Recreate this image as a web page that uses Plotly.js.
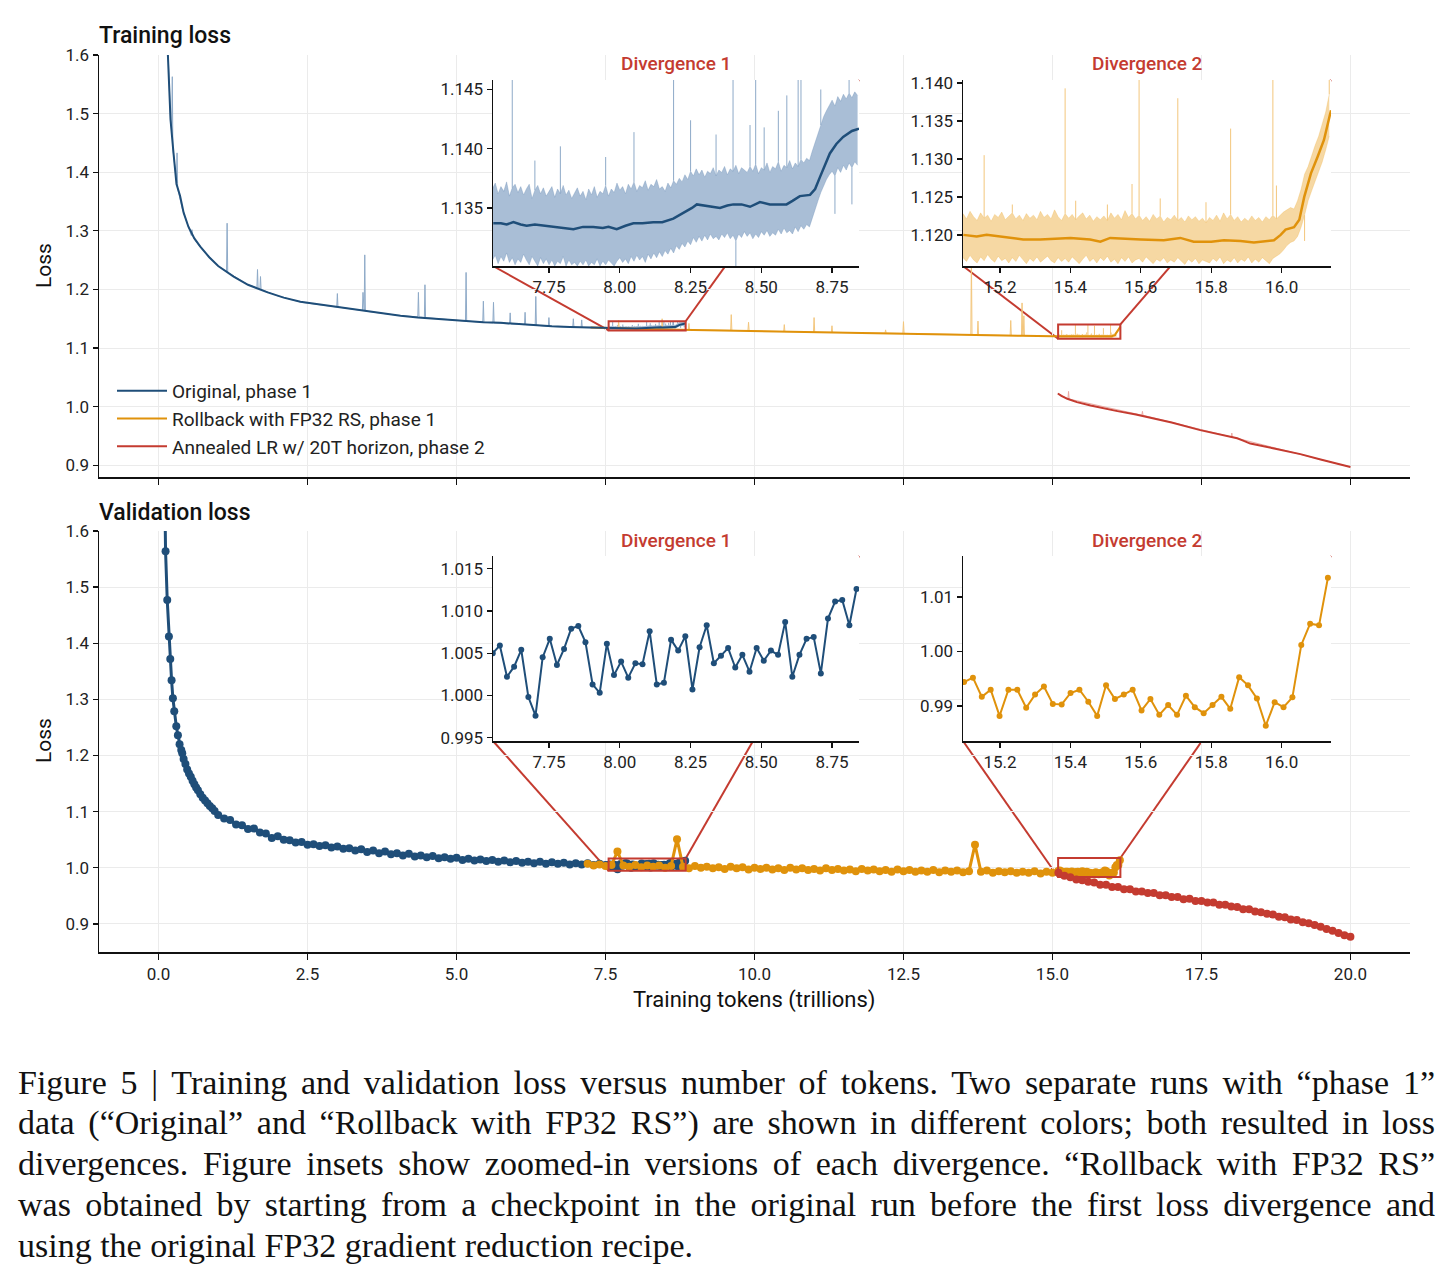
<!DOCTYPE html>
<html>
<head>
<meta charset="utf-8">
<script src="https://cdn.plot.ly/plotly-3.0.1.min.js"></script>
<style>
  html, body { margin: 0; padding: 0; background: #fff; }
  #fig { width: 1451px; height: 1277px; }
</style>
</head>
<body>
<div id="fig"></div>
<script>
// ---------------------------------------------------------------------------
// Training loss (smoothed) — main panel
// ---------------------------------------------------------------------------
const trainOrigX = [0.14,0.17,0.20,0.25,0.30,0.36,0.42,0.50,0.60,0.70,0.85,1.00,1.26,1.50,1.83,2.10,2.38,2.65,2.94,3.20,3.51,3.80,4.06,4.35,4.61,4.90,5.18,5.45,5.74,6.00,6.30,6.60,6.90,7.20,7.45];
const trainOrigY = [1.640,1.546,1.490,1.433,1.380,1.360,1.331,1.307,1.287,1.273,1.255,1.240,1.222,1.208,1.195,1.186,1.179,1.175,1.171,1.167,1.162,1.158,1.155,1.152,1.150,1.148,1.146,1.144,1.143,1.141,1.139,1.137,1.136,1.135,1.134];

const trainRollX = [7.25,7.5,8.0,8.5,9.0,9.5,10.0,10.5,11.0,11.5,12.0,12.5,13.0,13.5,14.0,14.5,15.0];
const trainRollY = [1.1350,1.1340,1.1328,1.1318,1.1310,1.1300,1.1290,1.1280,1.1272,1.1265,1.1257,1.1250,1.1240,1.1230,1.1220,1.1210,1.1200];

const trainAnnealX = [15.09,15.15,15.25,15.41,15.64,15.81,16.09,16.4,16.64,17.0,17.48,17.8,18.1,18.2,18.32,18.7,19.16,19.5,19.72,20.0];
const trainAnnealY = [1.0225,1.0185,1.0134,1.0077,1.0020,0.9980,0.9924,0.9865,0.9810,0.9730,0.9600,0.9530,0.9460,0.9420,0.9370,0.9290,0.9190,0.9100,0.9040,0.8970];

// Raw (unsmoothed) training loss with its spikes, outside the zoom windows
const origRawX = [0.14,0.18,0.20,0.22,0.23,0.24,0.27,0.30,0.31,0.32,0.40,0.50,0.55,0.56,0.57,0.60,0.70,0.85,1.00,1.14,1.15,1.16,1.30,1.50,1.65,1.66,1.67,1.70,1.71,1.72,2.00,2.40,2.99,3.00,3.01,3.40,3.42,3.43,3.44,3.45,3.46,3.47,4.00,4.35,4.36,4.37,4.46,4.47,4.48,5.00,5.15,5.16,5.17,5.44,5.45,5.46,5.61,5.62,5.63,5.89,5.90,5.91,6.14,6.15,6.16,6.32,6.33,6.34,6.54,6.55,6.56,6.80,6.95,6.96,6.97,7.09,7.10,7.11,7.30,7.54];
const origRawY = [1.660,1.520,1.490,1.470,1.563,1.440,1.410,1.385,1.433,1.372,1.337,1.308,1.292,1.302,1.294,1.286,1.272,1.256,1.240,1.230,1.313,1.229,1.220,1.208,1.203,1.234,1.202,1.201,1.222,1.200,1.189,1.178,1.170,1.193,1.170,1.164,1.164,1.195,1.164,1.163,1.259,1.163,1.156,1.153,1.195,1.153,1.152,1.208,1.152,1.147,1.146,1.229,1.146,1.144,1.180,1.144,1.143,1.178,1.143,1.141,1.160,1.141,1.140,1.161,1.140,1.139,1.188,1.139,1.137,1.152,1.137,1.136,1.136,1.150,1.136,1.135,1.148,1.135,1.1345,1.1338];

const rollRawX = [7.25,7.50,7.71,7.72,7.73,8.00,8.44,8.45,8.46,8.89,8.90,8.91,9.30,9.60,9.61,9.62,9.89,9.90,9.91,10.30,10.49,10.50,10.51,10.99,11.00,11.01,11.29,11.30,11.31,11.80,12.19,12.20,12.21,12.49,12.50,12.51,12.70,13.20,13.63,13.64,13.65,13.74,13.75,13.76,14.00,14.29,14.30,14.31,14.48,14.49,14.50,14.51,14.52,14.53,14.80,15.05];
const rollRawY = [1.1350,1.1338,1.1330,1.1470,1.1330,1.1327,1.1320,1.1500,1.1320,1.1312,1.1420,1.1312,1.1305,1.1302,1.1570,1.1301,1.1296,1.1440,1.1296,1.1285,1.1281,1.1400,1.1281,1.1272,1.1520,1.1272,1.1268,1.1380,1.1268,1.1260,1.1254,1.1310,1.1254,1.1250,1.1450,1.1250,1.1247,1.1237,1.1228,1.2550,1.1228,1.1226,1.1460,1.1226,1.1220,1.1214,1.1470,1.1214,1.1210,1.1770,1.1210,1.1210,1.1550,1.1209,1.1204,1.1199];

const annealRawX = [15.09,15.26,15.27,15.28,16.50,16.51,16.52,18.00,18.01,18.02,20.00];
const annealRawY = [1.0225,1.0135,1.0260,1.0130,0.9855,0.9920,0.9853,0.9483,0.9550,0.9481,0.8970];

// ---------------------------------------------------------------------------
// Divergence 1 / Divergence 2 — training loss, zoomed
// raw loss per 0.01T bin: upper and lower envelope, plus isolated spikes
// ---------------------------------------------------------------------------
const DIV1_BIN_X0 = 7.55, DIV1_BIN_STEP = 0.01;
const div1RawHi = [
  1.1366,1.1371,1.1362,1.1368,1.1364,1.1372,1.1360,1.1367,1.1370,1.1363,
  1.1368,1.1361,1.1366,1.1370,1.1358,1.1365,1.1369,1.1362,1.1367,1.1360,
  1.1364,1.1368,1.1359,1.1366,1.1362,1.1369,1.1361,1.1365,1.1358,1.1363,
  1.1367,1.1360,1.1364,1.1357,1.1366,1.1361,1.1368,1.1359,1.1364,1.1362,
  1.1369,1.1360,1.1366,1.1363,1.1371,1.1365,1.1368,1.1362,1.1370,1.1366,
  1.1372,1.1364,1.1369,1.1367,1.1373,1.1365,1.1370,1.1368,1.1374,1.1366,
  1.1368,1.1364,1.1371,1.1367,1.1373,1.1370,1.1375,1.1372,1.1378,1.1374,
  1.1381,1.1377,1.1383,1.1378,1.1382,1.1376,1.1381,1.1379,1.1384,1.1377,
  1.1382,1.1380,1.1385,1.1378,1.1383,1.1381,1.1386,1.1379,1.1384,1.1382,
  1.1380,1.1385,1.1381,1.1387,1.1379,1.1384,1.1382,1.1388,1.1380,1.1385,
  1.1383,1.1389,1.1381,1.1386,1.1384,1.1390,1.1383,1.1388,1.1385,1.1391,
  1.1388,1.1392,1.1390,1.1398,1.1405,1.1413,1.1420,1.1427,1.1432,1.1437,
  1.1441,1.1436,1.1444,1.1440,1.1446,1.1442,1.1447,1.1443,1.1448,1.1445
];
const div1RawLo = [
  1.1306,1.1310,1.1303,1.1309,1.1305,1.1312,1.1304,1.1308,1.1302,1.1307,
  1.1304,1.1311,1.1306,1.1302,1.1309,1.1305,1.1301,1.1308,1.1303,1.1307,
  1.1302,1.1306,1.1301,1.1305,1.1303,1.1309,1.1301,1.1306,1.1302,1.1304,
  1.1301,1.1305,1.1302,1.1306,1.1301,1.1304,1.1302,1.1307,1.1301,1.1305,
  1.1302,1.1306,1.1303,1.1301,1.1305,1.1308,1.1304,1.1307,1.1303,1.1309,
  1.1305,1.1310,1.1306,1.1309,1.1304,1.1311,1.1307,1.1312,1.1308,1.1313,
  1.1309,1.1314,1.1311,1.1316,1.1312,1.1318,1.1315,1.1320,1.1317,1.1322,
  1.1319,1.1325,1.1321,1.1326,1.1322,1.1327,1.1323,1.1328,1.1324,1.1326,
  1.1323,1.1328,1.1325,1.1329,1.1324,1.1327,1.1322,1.1328,1.1325,1.1330,
  1.1326,1.1329,1.1324,1.1328,1.1325,1.1330,1.1327,1.1331,1.1326,1.1329,
  1.1327,1.1332,1.1328,1.1333,1.1329,1.1331,1.1328,1.1334,1.1330,1.1335,
  1.1332,1.1336,1.1334,1.1342,1.1349,1.1356,1.1363,1.1369,1.1374,1.1378,
  1.1381,1.1377,1.1384,1.1380,1.1386,1.1382,1.1388,1.1384,1.1389,1.1386
];
const div1SpikeX = [7.62,7.70,7.79,7.95,8.05,8.19,8.25,8.34,8.40,8.41,8.46,8.48,8.51,8.56,8.59,8.63,8.64,8.71,8.76,8.81,8.82];
const div1SpikeY = [1.1460,1.1390,1.1402,1.1393,1.1414,1.1460,1.1424,1.1412,1.1460,1.1300,1.1420,1.1460,1.1418,1.1432,1.1445,1.1460,1.1460,1.1450,1.1345,1.1460,1.1353];
const div1SmoothX = [7.553,7.58,7.60,7.624,7.65,7.671,7.70,7.73,7.765,7.80,7.836,7.87,7.906,7.94,7.96,7.989,8.02,8.048,8.08,8.118,8.15,8.189,8.21,8.236,8.255,8.272,8.295,8.318,8.354,8.38,8.401,8.43,8.46,8.495,8.53,8.56,8.589,8.61,8.636,8.672,8.69,8.707,8.725,8.742,8.765,8.789,8.82,8.845];
const div1SmoothY = [1.1337,1.1337,1.1336,1.1338,1.1336,1.1335,1.1336,1.1335,1.1334,1.1333,1.1332,1.1334,1.1334,1.1333,1.1334,1.1332,1.1335,1.1337,1.1337,1.1338,1.1338,1.1341,1.1344,1.1347,1.1350,1.1353,1.1352,1.1351,1.1350,1.1352,1.1353,1.1353,1.1351,1.1355,1.1353,1.1353,1.1353,1.1356,1.1360,1.1361,1.1366,1.1376,1.1386,1.1396,1.1404,1.1410,1.1415,1.1417];

const DIV2_BIN_X0 = 15.095, DIV2_BIN_STEP = 0.01;
const div2RawHi = [
  1.1228,1.1221,1.1231,1.1224,1.1219,1.1229,1.1222,1.1226,1.1218,1.1227,
  1.1223,1.1230,1.1220,1.1225,1.1229,1.1221,1.1226,1.1219,1.1228,1.1222,
  1.1226,1.1220,1.1231,1.1223,1.1227,1.1221,1.1233,1.1224,1.1219,1.1228,
  1.1222,1.1227,1.1220,1.1225,1.1229,1.1221,1.1226,1.1218,1.1224,1.1220,
  1.1225,1.1219,1.1229,1.1222,1.1227,1.1220,1.1232,1.1223,1.1228,1.1221,
  1.1226,1.1219,1.1224,1.1218,1.1227,1.1221,1.1225,1.1217,1.1223,1.1220,
  1.1226,1.1219,1.1223,1.1217,1.1225,1.1220,1.1224,1.1218,1.1222,1.1216,
  1.1223,1.1219,1.1226,1.1218,1.1229,1.1221,1.1227,1.1219,1.1224,1.1217,
  1.1222,1.1218,1.1225,1.1219,1.1223,1.1217,1.1224,1.1220,1.1226,1.1221,
  1.1226,1.1230,1.1233,1.1236,1.1234,1.1245,1.1260,1.1280,1.1290,1.1305,
  1.1318,1.1330,1.1345,1.1362,1.1385
];
const div2RawLo = [
  1.1170,1.1165,1.1173,1.1167,1.1163,1.1171,1.1166,1.1174,1.1168,1.1164,
  1.1172,1.1166,1.1169,1.1163,1.1170,1.1165,1.1173,1.1167,1.1162,1.1169,
  1.1165,1.1171,1.1164,1.1168,1.1172,1.1166,1.1163,1.1170,1.1165,1.1169,
  1.1164,1.1171,1.1166,1.1162,1.1168,1.1173,1.1165,1.1169,1.1163,1.1170,
  1.1166,1.1172,1.1164,1.1168,1.1162,1.1170,1.1165,1.1171,1.1163,1.1167,
  1.1169,1.1164,1.1171,1.1166,1.1162,1.1168,1.1165,1.1170,1.1163,1.1167,
  1.1164,1.1170,1.1166,1.1161,1.1168,1.1164,1.1169,1.1162,1.1167,1.1165,
  1.1163,1.1169,1.1165,1.1171,1.1162,1.1167,1.1164,1.1170,1.1163,1.1168,
  1.1165,1.1171,1.1163,1.1168,1.1164,1.1170,1.1166,1.1162,1.1169,1.1172,
  1.1175,1.1180,1.1186,1.1190,1.1192,1.1198,1.1210,1.1226,1.1245,1.1258,
  1.1270,1.1282,1.1296,1.1312,1.1330
];
const div2SpikeX = [15.155,15.235,15.385,15.415,15.505,15.575,15.595,15.655,15.705,15.785,15.855,15.975,15.985,16.065,16.135];
const div2SpikeY = [1.1305,1.1240,1.1393,1.1245,1.1240,1.1267,1.1405,1.1248,1.1380,1.1243,1.1340,1.1405,1.1265,1.1192,1.1405];
const div2SmoothX = [15.096,15.134,15.162,15.2,15.233,15.266,15.314,15.36,15.4,15.456,15.485,15.513,15.551,15.6,15.665,15.712,15.75,15.8,15.836,15.883,15.921,15.978,15.997,16.011,16.035,16.05,16.064,16.083,16.102,16.12,16.14];
const div2SmoothY = [1.1200,1.1198,1.1200,1.1198,1.1196,1.1194,1.1194,1.1195,1.1196,1.1194,1.1191,1.1196,1.1195,1.1194,1.1193,1.1196,1.1191,1.1191,1.1193,1.1192,1.1190,1.1193,1.1200,1.1207,1.1210,1.1220,1.1250,1.1281,1.1303,1.1325,1.1364];

// ---------------------------------------------------------------------------
// Validation loss
// ---------------------------------------------------------------------------
const valOrigHeadX = [0.09,0.117,0.145,0.173,0.196,0.218,0.240,0.263,0.297,0.324,0.352,0.380,0.397,0.42,0.45,0.48,0.51,0.54,0.57,0.60,0.63,0.66,0.70,0.74,0.78,0.82,0.86,0.90,0.94];
const valOrigHeadY = [1.780,1.564,1.477,1.412,1.372,1.334,1.302,1.279,1.252,1.236,1.220,1.210,1.204,1.194,1.185,1.175,1.168,1.162,1.155,1.149,1.143,1.138,1.131,1.125,1.120,1.115,1.110,1.106,1.101];
const VAL_STEP = 0.1;
const VAL_ORIG_X0 = 1.0;
const valOrigY = [
  1.094,1.088,1.085,1.077,1.076,1.069,1.070,1.063,1.061,1.053,
  1.056,1.050,1.049,1.045,1.046,1.041,1.042,1.039,1.040,1.036,
  1.038,1.034,1.035,1.031,1.033,1.028,1.031,1.026,1.029,1.024,
  1.026,1.022,1.025,1.020,1.022,1.019,1.021,1.017,1.019,1.016,
  1.018,1.014,1.016,1.013,1.015,1.012,1.014,1.011,1.013,1.010,
  1.012,1.009,1.011,1.008,1.011,1.007,1.010,1.007,1.009,1.006,
  1.008,1.006,1.008,1.005,1.007,1.005
];
const VAL_ROLL_X0 = 7.2;
const valRollY = [
  1.007,1.004,1.006,1.003,1.005,1.029,1.004,1.002,1.005,1.001,
  1.004,1.002,1.004,1.000,1.003,1.051,1.002,0.999,1.003,1.000,
  1.002,0.999,1.001,0.998,1.002,0.999,1.001,0.997,1.000,0.998,
  1.000,0.997,0.999,0.996,1.000,0.997,0.999,0.996,0.998,0.995,
  0.999,0.996,0.998,0.995,0.997,0.994,0.998,0.995,0.997,0.994,
  0.996,0.993,0.997,0.994,0.996,0.993,0.995,0.993,0.996,0.992,
  0.995,0.993,0.995,0.992,0.994,1.041,0.993,0.995,0.991,0.994,
  0.992,0.994,0.991,0.993,0.991,0.994,0.990,0.993,0.991
];
const VAL_ANNEAL_X0 = 15.1;
const valAnnealY = [
  0.991,0.986,0.983,0.979,0.978,0.975,0.974,0.970,0.970,0.966,
  0.966,0.962,0.962,0.958,0.958,0.955,0.955,0.951,0.951,0.948,
  0.948,0.944,0.945,0.941,0.941,0.938,0.938,0.934,0.934,0.931,
  0.930,0.926,0.926,0.922,0.921,0.918,0.917,0.913,0.912,0.908,
  0.907,0.903,0.901,0.898,0.895,0.891,0.888,0.884,0.880,0.877
];
const VAL_DIV_STEP = 0.0252;
const VAL_DIV1_X0 = 7.551;
const valDiv1Y = [1.0050,1.0059,1.0022,1.0034,1.0054,0.9998,0.9976,1.0045,1.0067,1.0036,1.0055,1.0079,1.0082,1.0063,1.0013,1.0003,1.0061,1.0024,1.0040,1.0021,1.0038,1.0037,1.0076,1.0013,1.0015,1.0066,1.0053,1.0070,1.0007,1.0057,1.0083,1.0038,1.0047,1.0056,1.0033,1.0048,1.0028,1.0056,1.0041,1.0053,1.0048,1.0087,1.0022,1.0048,1.0067,1.0069,1.0026,1.0091,1.0111,1.0113,1.0083,1.0126];
const VAL_DIV2_X0 = 15.098;
const valDiv2Y = [0.9944,0.9952,0.9917,0.9930,0.9882,0.9930,0.9930,0.9897,0.9921,0.9936,0.9904,0.9903,0.9924,0.9930,0.9908,0.9882,0.9938,0.9913,0.9921,0.9930,0.9892,0.9913,0.9884,0.9902,0.9884,0.9919,0.9898,0.9887,0.9902,0.9917,0.9895,0.9953,0.9938,0.9914,0.9864,0.9907,0.9898,0.9916,1.0012,1.0051,1.0048,1.0135];

// ---------------------------------------------------------------------------
// Ticks, zoom windows, labels
// ---------------------------------------------------------------------------
const MAIN_XTICKS = [0, 2.5, 5, 7.5, 10, 12.5, 15, 17.5, 20];
const MAIN_YTICKS = [0.9, 1.0, 1.1, 1.2, 1.3, 1.4, 1.5, 1.6];
const DIV1_XTICKS = [7.75, 8.0, 8.25, 8.5, 8.75];
const DIV2_XTICKS = [15.2, 15.4, 15.6, 15.8, 16.0];
const DIV1_TRAIN_YTICKS = [1.135, 1.140, 1.145];
const DIV2_TRAIN_YTICKS = [1.120, 1.125, 1.130, 1.135, 1.140];
const DIV1_VAL_YTICKS = [0.995, 1.000, 1.005, 1.010, 1.015];
const DIV2_VAL_YTICKS = [0.99, 1.00, 1.01];

const DIV1_X = [7.552, 8.845];
const DIV2_X = [15.095, 16.14];
const DIV1_TRAIN_Y = [1.1301, 1.1458];
const DIV2_TRAIN_Y = [1.1159, 1.1404];
const DIV1_VAL_Y = [0.9946, 1.0165];
const DIV2_VAL_Y = [0.9836, 1.0175];

const SERIES_NAMES = ['Original, phase 1', 'Rollback with FP32 RS, phase 1', 'Annealed LR w/ 20T horizon, phase 2'];
const CAPTION = [
  'Figure 5 | Training and validation loss versus number of tokens. Two separate runs with “phase 1”',
  'data (“Original” and “Rollback with FP32 RS”) are shown in different colors; both resulted in loss',
  'divergences. Figure insets show zoomed-in versions of each divergence. “Rollback with FP32 RS”',
  'was obtained by starting from a checkpoint in the original run before the first loss divergence and',
  'using the original FP32 gradient reduction recipe.'
];

// ---------------------------------------------------------------------------
// Styling and geometry
// ---------------------------------------------------------------------------
const W = 1451, H = 1277;
const P = px => px / W;
const Q = py => 1 - py / H;

const BLUE = '#1f4e79', ORANGE = '#e0920b', RED = '#c43b30';
const BLUE_RAW = '#8eaac8', ORANGE_RAW = '#f3c67c', RED_RAW = '#eaa9a2';
const BLUE_BAND = 'rgba(112,146,186,0.6)', ORANGE_BAND = 'rgba(238,178,72,0.5)';
const FONT = 'Roboto, "Open Sans", sans-serif';
const CAPTION_LEFT = 18, CAPTION_RIGHT = 1435;

const gridX = (x0, step, n) => Array.from({ length: n }, (_, i) => +(x0 + i * step).toFixed(4));

const div1BinX = gridX(DIV1_BIN_X0, DIV1_BIN_STEP, div1RawHi.length);
const div2BinX = gridX(DIV2_BIN_X0, DIV2_BIN_STEP, div2RawHi.length);
const valDiv1X = gridX(VAL_DIV1_X0, VAL_DIV_STEP, valDiv1Y.length);
const valDiv2X = gridX(VAL_DIV2_X0, VAL_DIV_STEP, valDiv2Y.length);

// vertical segments from the bin envelope out to each spike value
function spikeSegments(sx, sy, x0, step, hi, lo) {
  const x = [], y = [];
  sx.forEach((s, k) => {
    const i = Math.round((s - x0) / step);
    const base = sy[k] >= hi[i] ? hi[i] : lo[i];
    x.push(s, s, null);
    y.push(base, sy[k], null);
  });
  return { x, y };
}
const div1Spikes = spikeSegments(div1SpikeX, div1SpikeY, DIV1_BIN_X0, DIV1_BIN_STEP, div1RawHi, div1RawLo);
const div2Spikes = spikeSegments(div2SpikeX, div2SpikeY, DIV2_BIN_X0, DIV2_BIN_STEP, div2RawHi, div2RawLo);

const dom = {
  mainX: [P(99), P(1410)],
  topY: [Q(477), Q(55)],
  botY: [Q(952), Q(531)],
  in1X: [P(493), P(859)],
  in2X: [P(963), P(1331)],
  inTopY: [Q(266), Q(80)],
  inBotY: [Q(741), Q(556)]
};
const MAIN_XRANGE = [-1, 21];
const TOP_YRANGE = [0.88, 1.6];
const BOT_YRANGE = [0.85, 1.6];

// ---------------------------------------------------------------------------
// Traces
// ---------------------------------------------------------------------------
const line = (x, y, color, width, extra) => Object.assign({
  type: 'scatter', mode: 'lines', x, y, line: { color, width }, showlegend: false, hoverinfo: 'skip'
}, extra || {});
const dots = (x, y, color, size, width, extra) => Object.assign({
  type: 'scatter', mode: 'lines+markers', x, y,
  line: { color, width }, marker: { color, size }, showlegend: false, hoverinfo: 'skip'
}, extra || {});
const band = (x, lo, hi, color, axes) => [
  line(x, lo, color, 0.6, axes),
  line(x, hi, color, 0.6, Object.assign({ fill: 'tonexty', fillcolor: color }, axes))
];

const ax = (xa, ya) => ({ xaxis: xa, yaxis: ya });

const traces = [
  // training, main panel: raw loss underneath, smoothed on top
  line(origRawX, origRawY, BLUE_RAW, 1),
  ...band(div1BinX, div1RawLo, div1RawHi, BLUE_BAND, ax('x', 'y')),
  line(div1Spikes.x, div1Spikes.y, BLUE_RAW, 1),
  line(rollRawX, rollRawY, ORANGE_RAW, 1),
  ...band(div2BinX, div2RawLo, div2RawHi, ORANGE_BAND, ax('x', 'y')),
  line(div2Spikes.x, div2Spikes.y, ORANGE_RAW, 1),
  line(annealRawX, annealRawY, RED_RAW, 1),
  line(trainRollX.concat(div2SmoothX), trainRollY.concat(div2SmoothY), ORANGE, 2,
       { name: SERIES_NAMES[1], showlegend: true, legendrank: 2, legendgroup: 'b' }),
  line(trainOrigX.concat(div1SmoothX), trainOrigY.concat(div1SmoothY), BLUE, 2,
       { name: SERIES_NAMES[0], showlegend: true, legendrank: 1, legendgroup: 'a' }),
  line(trainAnnealX, trainAnnealY, RED, 2,
       { name: SERIES_NAMES[2], showlegend: true, legendrank: 3, legendgroup: 'c' }),

  // validation, main panel
  dots(valOrigHeadX.concat(gridX(VAL_ORIG_X0, VAL_STEP, valOrigY.length), valDiv1X),
       valOrigHeadY.concat(valOrigY, valDiv1Y), BLUE, 8, 3, ax('x2', 'y2')),
  dots(gridX(VAL_ROLL_X0, VAL_STEP, valRollY.length).concat(valDiv2X),
       valRollY.concat(valDiv2Y), ORANGE, 8, 3, ax('x2', 'y2')),
  dots(gridX(VAL_ANNEAL_X0, VAL_STEP, valAnnealY.length), valAnnealY, RED, 8, 3, ax('x2', 'y2')),

  // inset: divergence 1, training
  ...band(div1BinX, div1RawLo, div1RawHi, BLUE_BAND, ax('x3', 'y3')),
  line(div1Spikes.x, div1Spikes.y, BLUE_RAW, 1, ax('x3', 'y3')),
  line(div1SmoothX, div1SmoothY, BLUE, 2.5, ax('x3', 'y3')),
  // inset: divergence 2, training
  ...band(div2BinX, div2RawLo, div2RawHi, ORANGE_BAND, ax('x4', 'y4')),
  line(div2Spikes.x, div2Spikes.y, ORANGE_RAW, 1, ax('x4', 'y4')),
  line(div2SmoothX, div2SmoothY, ORANGE, 2.5, ax('x4', 'y4')),
  // insets: validation
  dots(valDiv1X, valDiv1Y, BLUE, 6, 2, ax('x5', 'y5')),
  dots(valDiv2X, valDiv2Y, ORANGE, 6, 2, ax('x6', 'y6'))
];

// ---------------------------------------------------------------------------
// Axes
// ---------------------------------------------------------------------------
const tickFont = { family: FONT, size: 17, color: '#222' };
const baseAxis = {
  showline: true, linecolor: '#111', linewidth: 1.5,
  ticks: 'outside', ticklen: 5, tickwidth: 1.3, tickcolor: '#111',
  tickfont: tickFont, zeroline: false, fixedrange: true
};
const mainAxis = extra => Object.assign({}, baseAxis, { showgrid: true, gridcolor: '#ebebeb', gridwidth: 1 }, extra);
const insetAxis = extra => Object.assign({}, baseAxis, { showgrid: false }, extra);

const layout = {
  width: W, height: H,
  margin: { l: 0, r: 0, t: 0, b: 0 },
  paper_bgcolor: '#fff', plot_bgcolor: '#fff',
  font: { family: FONT, color: '#222' },
  showlegend: true,
  legend: {
    x: P(112), y: Q(372), xanchor: 'left', yanchor: 'top',
    bgcolor: 'rgba(0,0,0,0)', font: { family: FONT, size: 19, color: '#222' },
    itemwidth: 50, tracegroupgap: 0
  },
  xaxis: mainAxis({ domain: dom.mainX, range: MAIN_XRANGE, anchor: 'y', tickvals: MAIN_XTICKS, showticklabels: false, ticklen: 6 }),
  yaxis: mainAxis({ domain: dom.topY, range: TOP_YRANGE, anchor: 'x', tickvals: MAIN_YTICKS, tickformat: '.1f' }),
  xaxis2: mainAxis({ domain: dom.mainX, range: MAIN_XRANGE, anchor: 'y2', tickvals: MAIN_XTICKS, tickformat: '.1f', ticklen: 6 }),
  yaxis2: mainAxis({ domain: dom.botY, range: BOT_YRANGE, anchor: 'x2', tickvals: MAIN_YTICKS, tickformat: '.1f' }),
  xaxis3: insetAxis({ domain: dom.in1X, range: DIV1_X, anchor: 'y3', tickvals: DIV1_XTICKS, tickformat: '.2f' }),
  yaxis3: insetAxis({ domain: dom.inTopY, range: DIV1_TRAIN_Y, anchor: 'x3', tickvals: DIV1_TRAIN_YTICKS, tickformat: '.3f' }),
  xaxis4: insetAxis({ domain: dom.in2X, range: DIV2_X, anchor: 'y4', tickvals: DIV2_XTICKS, tickformat: '.1f' }),
  yaxis4: insetAxis({ domain: dom.inTopY, range: DIV2_TRAIN_Y, anchor: 'x4', tickvals: DIV2_TRAIN_YTICKS, tickformat: '.3f' }),
  xaxis5: insetAxis({ domain: dom.in1X, range: DIV1_X, anchor: 'y5', tickvals: DIV1_XTICKS, tickformat: '.2f' }),
  yaxis5: insetAxis({ domain: dom.inBotY, range: DIV1_VAL_Y, anchor: 'x5', tickvals: DIV1_VAL_YTICKS, tickformat: '.3f' }),
  xaxis6: insetAxis({ domain: dom.in2X, range: DIV2_X, anchor: 'y6', tickvals: DIV2_XTICKS, tickformat: '.1f' }),
  yaxis6: insetAxis({ domain: dom.inBotY, range: DIV2_VAL_Y, anchor: 'x6', tickvals: DIV2_VAL_YTICKS, tickformat: '.2f' }),
  shapes: [],
  annotations: []
};

// ---------------------------------------------------------------------------
// Zoom markers: inset backgrounds, window boxes and connector lines
// ---------------------------------------------------------------------------
const toPaper = (v, range, domain) => domain[0] + (v - range[0]) / (range[1] - range[0]) * (domain[1] - domain[0]);

const zooms = [
  { main: ['x', 'y'], mainY: TOP_YRANGE, mainDomY: dom.topY, inset: ['x3', 'y3'], wx: DIV1_X, wy: DIV1_TRAIN_Y, ix: dom.in1X, iy: dom.inTopY },
  { main: ['x', 'y'], mainY: TOP_YRANGE, mainDomY: dom.topY, inset: ['x4', 'y4'], wx: DIV2_X, wy: DIV2_TRAIN_Y, ix: dom.in2X, iy: dom.inTopY },
  { main: ['x2', 'y2'], mainY: BOT_YRANGE, mainDomY: dom.botY, inset: ['x5', 'y5'], wx: DIV1_X, wy: DIV1_VAL_Y, ix: dom.in1X, iy: dom.inBotY },
  { main: ['x2', 'y2'], mainY: BOT_YRANGE, mainDomY: dom.botY, inset: ['x6', 'y6'], wx: DIV2_X, wy: DIV2_VAL_Y, ix: dom.in2X, iy: dom.inBotY }
];
zooms.forEach(z => {
  // white panel behind each inset, hiding the main curves and grid
  layout.shapes.push({
    type: 'rect', xref: z.inset[0], yref: z.inset[1], layer: 'below',
    x0: z.wx[0], x1: z.wx[1], y0: z.wy[0], y1: z.wy[1],
    fillcolor: '#ffffff', line: { width: 0 }
  });
  // window outline on the main panel
  layout.shapes.push({
    type: 'rect', xref: z.main[0], yref: z.main[1], layer: 'above',
    x0: z.wx[0], x1: z.wx[1], y0: z.wy[0], y1: z.wy[1],
    line: { color: RED, width: 2 }, fillcolor: 'rgba(0,0,0,0)'
  });
  // connector lines: window corners to inset corners
  const bx0 = toPaper(z.wx[0], MAIN_XRANGE, dom.mainX), bx1 = toPaper(z.wx[1], MAIN_XRANGE, dom.mainX);
  const by0 = toPaper(z.wy[0], z.mainY, z.mainDomY), by1 = toPaper(z.wy[1], z.mainY, z.mainDomY);
  [[bx0, by0, z.ix[0], z.iy[0]], [bx1, by1, z.ix[1], z.iy[1]]].forEach(c => {
    layout.shapes.push({
      type: 'line', xref: 'paper', yref: 'paper', layer: 'below',
      x0: c[0], y0: c[1], x1: c[2], y1: c[3], line: { color: RED, width: 2 }
    });
  });
});

// ---------------------------------------------------------------------------
// Titles and caption
// ---------------------------------------------------------------------------
const note = (text, px, py, font, extra) => Object.assign({
  text, x: P(px), y: Q(py), xref: 'paper', yref: 'paper', showarrow: false,
  xanchor: 'center', yanchor: 'middle', font
}, extra || {});
const panelTitleFont = { family: FONT, size: 23, color: '#111', weight: 500 };
const insetTitleFont = { family: FONT, size: 19, color: RED, weight: 500 };
const axisTitleFont = { family: FONT, size: 21, color: '#111' };

layout.annotations.push(
  note('Training loss', 97, 36, panelTitleFont, { xanchor: 'left' }),
  note('Validation loss', 97, 512, panelTitleFont, { xanchor: 'left' }),
  note('Loss', 44, 266, axisTitleFont, { textangle: -90 }),
  note('Loss', 44, 741, axisTitleFont, { textangle: -90 }),
  note('Training tokens (trillions)', 754, 1000, { family: FONT, size: 22, color: '#111' }),
  note('Divergence 1', 676, 63, insetTitleFont),
  note('Divergence 2', 1147, 63, insetTitleFont),
  note('Divergence 1', 676, 540, insetTitleFont),
  note('Divergence 2', 1147, 540, insetTitleFont)
);
const captionFont = { family: '"Liberation Serif", "DejaVu Serif", serif', size: 34, color: '#111' };
CAPTION.forEach((t, i) => {
  layout.annotations.push(note(t, CAPTION_LEFT - 2, 1082 + i * 40.8, captionFont, { xanchor: 'left' }));
});

// Caption paragraph is justified: every line but the last is widened to the
// full text width by spreading the extra room over its word gaps.
function justifyCaption(gd) {
  gd.querySelectorAll('.annotation-text').forEach(el => {
    const idx = CAPTION.indexOf(el.textContent);
    if (idx < 0 || idx === CAPTION.length - 1) return;
    const gaps = (CAPTION[idx].match(/ /g) || []).length;
    const before = el.getBBox();
    const extra = (CAPTION_RIGHT - CAPTION_LEFT) - before.width;
    if (extra <= 0 || !gaps) return;
    el.style.wordSpacing = (extra / gaps) + 'px';
    const after = el.getBBox();
    const x = parseFloat(el.getAttribute('x')) || 0;
    el.setAttribute('x', x + (before.x - after.x));
  });
}

Plotly.newPlot('fig', traces, layout, { staticPlot: true, displayModeBar: false }).then(justifyCaption);
</script>
</body>
</html>
